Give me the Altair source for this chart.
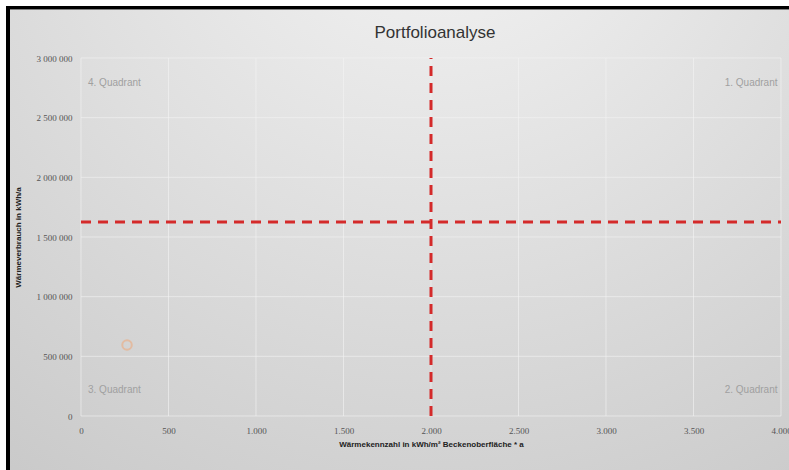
import altair as alt
import pandas as pd

# ---- data ----
chart_title = ["Portfolioanalyse"]
point_x = [263]
point_y = [595000]
threshold_x = [2000]
threshold_y = [1625000]
vline_top = [3000000]
x_ticks = [0, 500, 1000, 1500, 2000, 2500, 3000, 3500, 4000]
y_ticks = [0, 500000, 1000000, 1500000, 2000000, 2500000, 3000000]
quad_left_names = ["4. Quadrant", "3. Quadrant"]
quad_left_x = [40, 40]
quad_left_y = [2790000, 215000]
quad_right_names = ["1. Quadrant", "2. Quadrant"]
quad_right_x = [3980, 3980]
quad_right_y = [2790000, 215000]

W, H = 700, 358
PL, PT = 81, 58

xscale = alt.Scale(domain=[0, 4000], nice=False, zero=False)
yscale = alt.Scale(domain=[0, 3000000], nice=False, zero=False)

xaxis = alt.Axis(
    values=x_ticks, title="Wärmekennzahl in kWh/m² Beckenoberfläche * a",
    labelExpr="replace(datum.label, ',', '.')",
    ticks=False, domain=False, grid=False, labelPadding=10, zindex=1, labelFlush=False,
    labelFont="Liberation Sans Narrow", labelFontSize=9, labelColor="#555555",
    titleFont="Liberation Sans", titleFontSize=8, titleFontWeight="bold", titleColor="#222222",
    titleX=W / 2, titleY=28, titleBaseline="middle", titleAnchor="middle",
)
yaxis = alt.Axis(
    values=y_ticks, title="Wärmeverbrauch in kWh/a",
    labelExpr="replace(replace(datum.label, ',', ' '), ',', ' ')",
    ticks=False, domain=False, grid=False, labelPadding=9, zindex=1, labelFlush=False,
    labelFont="Liberation Sans Narrow", labelFontSize=9, labelColor="#555555",
    titleFont="Liberation Sans", titleFontSize=8, titleFontWeight="bold", titleColor="#222222",
    titleX=-63, titleY=H / 2, titleBaseline="middle", titleAnchor="middle", titleAngle=-90,
)

one = pd.DataFrame({"k": [0]})

bg = alt.Chart(one).mark_rect(
    fill=alt.RadialGradient(
        gradient="radial", x1=0.55, y1=0.0, r1=0.0, x2=0.55, y2=0.0, r2=1.05,
        stops=[alt.GradientStop(offset=0, color="#f6f6f6"),
               alt.GradientStop(offset=1, color="#c6c6c6")],
    ),
    strokeWidth=0,
).encode(
    x=alt.value(10 - PL), x2=alt.value(789 - PL),
    y=alt.value(10 - PT), y2=alt.value(470 - PT),
)

border_top = alt.Chart(one).mark_rect(color="#000000").encode(
    x=alt.value(6 - PL), x2=alt.value(789 - PL),
    y=alt.value(6 - PT), y2=alt.value(9.5 - PT),
)
border_left = alt.Chart(one).mark_rect(color="#000000").encode(
    x=alt.value(6 - PL), x2=alt.value(10 - PL),
    y=alt.value(6 - PT), y2=alt.value(470 - PT),
)

title_mark = alt.Chart(pd.DataFrame({"t": chart_title})).mark_text(
    font="Liberation Sans", fontSize=17, color="#333333", align="center", baseline="alphabetic"
).encode(x=alt.value(354), y=alt.value(38 - PT), text="t:N")

axes_layer = alt.Chart(pd.DataFrame({"x": point_x, "y": point_y})).mark_point(opacity=0).encode(
    x=alt.X("x:Q", scale=xscale, axis=xaxis),
    y=alt.Y("y:Q", scale=yscale, axis=yaxis),
)

vgrid = alt.Chart(pd.DataFrame({"x": x_ticks})).mark_rule(
    color="#f3f3f3", strokeWidth=1, opacity=0.6
).encode(x=alt.X("x:Q", scale=xscale), y=alt.value(0), y2=alt.value(H))
hgrid = alt.Chart(pd.DataFrame({"y": y_ticks})).mark_rule(
    color="#f3f3f3", strokeWidth=1, opacity=0.6
).encode(y=alt.Y("y:Q", scale=yscale), x=alt.value(0), x2=alt.value(W))

hline = alt.Chart(pd.DataFrame({"y": threshold_y, "x0": [0], "x1": [4000]})).mark_rule(
    color="#d42a2a", strokeWidth=3, strokeDash=[10, 7]
).encode(
    x=alt.X("x0:Q", scale=xscale), x2="x1:Q", y=alt.Y("y:Q", scale=yscale)
)
vline = alt.Chart(pd.DataFrame({"x": threshold_x, "y0": [0], "y1": vline_top})).mark_rule(
    color="#d42a2a", strokeWidth=3, strokeDash=[10, 7]
).encode(
    x=alt.X("x:Q", scale=xscale), y=alt.Y("y0:Q", scale=yscale), y2="y1:Q"
)

pt = alt.Chart(pd.DataFrame({"x": point_x, "y": point_y})).mark_point(
    shape="circle", filled=False, color="#f0a878", opacity=0.55, size=90, strokeWidth=2
).encode(x=alt.X("x:Q", scale=xscale), y=alt.Y("y:Q", scale=yscale))

ql = alt.Chart(pd.DataFrame({"t": quad_left_names, "x": quad_left_x, "y": quad_left_y})).mark_text(
    align="left", baseline="middle", font="Liberation Sans", fontSize=10, color="#a0a0a0"
).encode(x=alt.X("x:Q", scale=xscale), y=alt.Y("y:Q", scale=yscale), text="t:N")
qr = alt.Chart(pd.DataFrame({"t": quad_right_names, "x": quad_right_x, "y": quad_right_y})).mark_text(
    align="right", baseline="middle", font="Liberation Sans", fontSize=10, color="#a0a0a0"
).encode(x=alt.X("x:Q", scale=xscale), y=alt.Y("y:Q", scale=yscale), text="t:N")

chart = alt.layer(bg, border_top, border_left, vgrid, hgrid, axes_layer,
                  hline, vline, pt, ql, qr, title_mark).properties(
    width=W, height=H,
    autosize=alt.AutoSizeParams(type="none"),
    padding={"left": PL, "top": PT, "right": 789 - PL - W, "bottom": 470 - PT - H},
    background="#ffffff",
).configure_view(stroke=None)

chart.save("out.html", embed_options={"renderer": "svg", "actions": False})
